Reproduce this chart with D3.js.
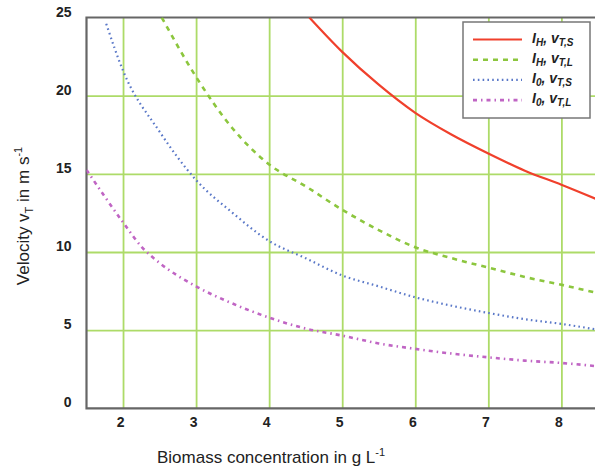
<!DOCTYPE html>
<html>
<head>
<meta charset="utf-8">
<script src="https://cdn.jsdelivr.net/npm/d3@7"></script>
<style>
  body { margin: 0; background: #fff; }
  svg { font-family: Arial, "Liberation Sans", sans-serif; }
  .grid line { stroke: #addb68; stroke-width: 1.8; }
  .grid path { display: none; }
  .tick text { font-weight: bold; font-size: 14px; fill: #222; }
</style>
</head>
<body>
<div id="chart"></div>
<script>
// series (biomass conc. in g/L -> velocity in m/s)
var redX   = [4.55, 5, 5.5, 6, 6.5, 7, 7.5, 8, 8.47];
var redY   = [25, 22.8, 20.7, 18.9, 17.5, 16.3, 15.2, 14.3, 13.4];

var greenX = [2.53, 3, 3.5, 4, 4.5, 5, 5.5, 6, 6.5, 7, 7.5, 8, 8.47];
var greenY = [25, 21.2, 17.9, 15.6, 14.2, 12.7, 11.4, 10.3, 9.6, 9.0, 8.4, 7.9, 7.4];

var blueX  = [1.77, 2, 2.5, 3, 3.5, 4, 4.5, 5, 5.5, 6, 6.5, 7, 7.5, 8, 8.47];
var blueY  = [24.6, 21.6, 17.7, 14.6, 12.5, 10.7, 9.6, 8.5, 7.8, 7.1, 6.56, 6.1, 5.7, 5.4, 5.05];

var pinkX  = [1.5, 2, 2.26, 2.5, 3, 3.5, 4, 4.5, 5, 5.5, 6, 6.5, 7, 7.5, 8, 8.47];
var pinkY  = [15.25, 11.9, 10.3, 9.3, 7.8, 6.7, 5.8, 5.1, 4.65, 4.15, 3.8, 3.5, 3.26, 3.05, 2.9, 2.7];

var xTicks = [2, 3, 4, 5, 6, 7, 8];
var yTicks = [0, 5, 10, 15, 20, 25];

var margin = {top: 17.5, right: 0, bottom: 63.7, left: 86.5};
var width = 595 - margin.left - margin.right,
    height = 472 - margin.top - margin.bottom;

var svg = d3.select("#chart").append("svg")
    .attr("width", 595)
    .attr("height", 472);

var canvas = svg.append("g")
    .attr("transform", "translate(" + margin.left + "," + margin.top + ")");

var xScale = d3.scaleLinear().domain([1.5, 8.46]).range([0, width]);
var yScale = d3.scaleLinear().domain([0, 25]).range([height, 0]);

// grid
canvas.append("g")
    .attr("class", "grid")
    .attr("transform", "translate(0," + height + ")")
    .call(d3.axisBottom(xScale).tickValues(xTicks).tickSize(-height).tickFormat(""));
canvas.append("g")
    .attr("class", "grid")
    .call(d3.axisLeft(yScale).tickValues([5, 10, 15, 20]).tickSize(-width).tickFormat(""));

// tick labels
var xAxis = canvas.append("g")
    .attr("transform", "translate(0," + height + ")")
    .call(d3.axisBottom(xScale).tickValues(xTicks).tickFormat(d3.format("d")).tickSize(0).tickPadding(9));
xAxis.select(".domain").remove();
xAxis.selectAll("text").attr("dx", "-3");

var yAxis = canvas.append("g")
    .call(d3.axisLeft(yScale).tickValues(yTicks).tickFormat(d3.format("d")).tickSize(0).tickPadding(15));
yAxis.select(".domain").remove();
yAxis.selectAll("text").attr("dy", "-0.1em");

// frame (left, top, bottom)
canvas.append("path")
    .attr("d", "M" + width + ",0H0V" + height + "H" + width)
    .attr("fill", "none")
    .attr("stroke", "#666")
    .attr("stroke-width", 2.2);

// series
var series = [
  {xs: redX,   ys: redY,   color: "#f0402c", dash: null,        w: 2.2, label: ["I", "H", "v", "T,S"]},
  {xs: greenX, ys: greenY, color: "#8cc63e", dash: "5,5",       w: 2.6, label: ["I", "H", "v", "T,L"]},
  {xs: blueX,  ys: blueY,  color: "#5a78c8", dash: "1.6,3.2",   w: 2.2, label: ["I", "0", "v", "T,S"]},
  {xs: pinkX,  ys: pinkY,  color: "#c065c4", dash: "4,4,1.5,4", w: 2.6, label: ["I", "0", "v", "T,L"]}
];

canvas.append("clipPath").attr("id", "plotclip")
  .append("rect").attr("width", width).attr("height", height);

var line = d3.line()
    .x(function(d) { return xScale(d[0]); })
    .y(function(d) { return yScale(d[1]); })
    .curve(d3.curveMonotoneX);

var lines = canvas.append("g").attr("clip-path", "url(#plotclip)");
series.forEach(function(s) {
  lines.append("path")
      .datum(d3.zip(s.xs, s.ys))
      .attr("fill", "none")
      .attr("stroke", s.color)
      .attr("stroke-width", s.w)
      .attr("stroke-dasharray", s.dash)
      .attr("d", line);
});

// legend
var legend = svg.append("g").attr("transform", "translate(463,22)");
legend.append("rect")
    .attr("width", 127).attr("height", 96)
    .attr("fill", "#fff")
    .attr("stroke", "#777")
    .attr("stroke-width", 1.5);

series.forEach(function(s, i) {
  var y = 17.5 + i * 20.2;
  legend.append("line")
      .attr("x1", 10).attr("x2", 59)
      .attr("y1", y).attr("y2", y)
      .attr("stroke", s.color)
      .attr("stroke-width", s.w)
      .attr("stroke-dasharray", s.dash);
  var t = legend.append("text")
      .attr("x", 69).attr("y", y + 3)
      .attr("font-size", 14)
      .attr("font-weight", "bold")
      .attr("font-style", "italic")
      .attr("fill", "#222");
  t.append("tspan").text(s.label[0]);
  t.append("tspan").attr("font-size", 10).attr("dy", 3).text(s.label[1]);
  t.append("tspan").attr("dy", -3).text(", " + s.label[2]);
  t.append("tspan").attr("font-size", 10).attr("dy", 3).text(s.label[3]);
});

// axis titles
var xt = svg.append("text")
    .attr("x", 157).attr("y", 463)
    .attr("font-size", 17)
    .attr("fill", "#222");
xt.append("tspan").text("Biomass concentration in g L");
xt.append("tspan").attr("font-size", 11).attr("dy", -7).text("-1");

var yt = svg.append("text")
    .attr("transform", "translate(29,216) rotate(-90)")
    .attr("text-anchor", "middle")
    .attr("font-size", 17)
    .attr("fill", "#222");
yt.append("tspan").text("Velocity v");
yt.append("tspan").attr("font-size", 11).attr("dy", 4).text("T");
yt.append("tspan").attr("dy", -4).text(" in m s");
yt.append("tspan").attr("font-size", 11).attr("dy", -7).text("-1");
</script>
</body>
</html>
